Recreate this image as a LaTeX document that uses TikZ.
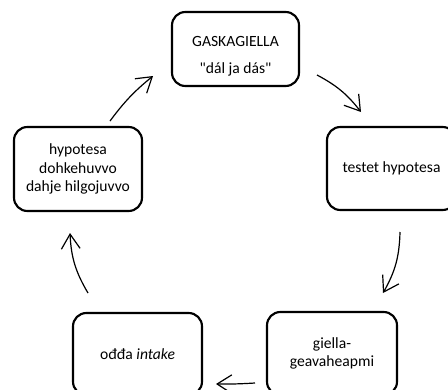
\documentclass[tikz,border=0pt]{standalone}
\usepackage{fontspec}
\setmainfont{Carlito}[Ligatures=TeXOff]
\usetikzlibrary{arrows.meta}
\begin{document}
\begin{tikzpicture}[x=0.75pt,y=-0.75pt,
  box/.style={draw, line width=1.6pt, rounded corners=10pt, align=center,
    font=\fontsize{11.7}{14}\selectfont, inner sep=0pt},
  cyc/.style={-{Straight Barb[length=11pt,width=14pt]}, line width=0.9pt}]
\useasboundingbox (0,0) rectangle (448,389);

\node[box, minimum width=95.25pt, minimum height=55.5pt,
  label={[font=\fontsize{11.7}{14}\selectfont, align=center, yshift=-5.6pt]center:GASKAGIELLA\\[6pt]"dál ja dás"}]
  (top) at (235.5,49) {};
\node[box, minimum width=96.75pt, minimum height=62.25pt] (right) at (391.5,168.5) {testet hypotesa};
\node[box, minimum width=97.5pt, minimum height=62.25pt] (bright) at (332,353.5) {giella-\\geavaheapmi};
\node[box, minimum width=96.75pt, minimum height=61.5pt] (bleft) at (137.5,354) {ođđa \textit{intake}};
\node[box, minimum width=96pt, minimum height=63pt] (left) at (78,169) {hypotesa\\dohkehuvvo\\dahje hilgojuvvo};

\coordinate (a1s) at (110,121); \coordinate (a1e) at (153,76);
\coordinate (a2s) at (317,75);  \coordinate (a2e) at (361,112);
\coordinate (a3s) at (400,232); \coordinate (a3e) at (383,293);
\coordinate (a4s) at (255,383); \coordinate (a4e) at (216,384);
\coordinate (a5s) at (88,293);  \coordinate (a5e) at (70,233);

\draw[cyc] (a1s) to[bend left=7] (a1e);
\draw[cyc] (a2s) to[bend left=12] (a2e);
\draw[cyc] (a3s) to[bend left=14] (a3e);
\draw[cyc] (a4s) to[bend left=2] (a4e);
\draw[cyc] (a5s) to[bend left=14] (a5e);
\end{tikzpicture}
\end{document}
